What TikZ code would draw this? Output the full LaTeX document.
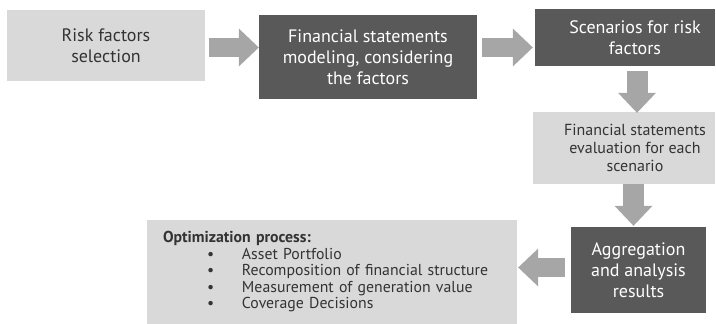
\documentclass[tikz,border=0pt]{standalone}
\usepackage{fontspec}
\setmainfont{PT Sans}
\usetikzlibrary{arrows.meta}
\definecolor{lightbox}{HTML}{D9D9D9}
\definecolor{darkbox}{HTML}{595959}
\definecolor{arrowgray}{HTML}{A6A6A6}
\definecolor{inktext}{HTML}{333333}
\newcommand{\bulletitem}[1]{\hspace*{44pt}\makebox[35pt][l]{\textbullet}#1}
\begin{document}
\begin{tikzpicture}[x=1pt,y=-1pt]

      \tikzset{lightstep/.style={fill=lightbox, text=inktext, inner sep=0pt, align=center, font=\fontsize{18}{21}\selectfont},
               darkstep/.style={fill=darkbox, text=white, inner sep=0pt, align=center, font=\fontsize{18}{21}\selectfont},
               fat/.style={draw=arrowgray, line width=19pt, -{Triangle[length=20pt,width=38pt,line width=0pt]}}}
      \useasboundingbox (0,0) rectangle (716,324);
%% Steps
      	\node[lightstep, minimum width=198pt, minimum height=71pt] (select) at (106,45.5) {Risk factors\\selection};
      	\node[darkstep, minimum width=218pt, minimum height=84pt] (model) at (368,57) {Financial statements\\modeling, considering\\the factors};
      	\node[darkstep, minimum width=180pt, minimum height=57pt] (scen) at (625,37.5) {\hspace*{20pt}Scenarios for risk\\\hspace*{20pt}factors};
      	\node[lightstep, minimum width=182pt, minimum height=72pt, font=\fontsize{16}{18}\selectfont] (eval) at (624,148) {\hspace*{22pt}Financial statements\\\hspace*{22pt}evaluation for each\\\hspace*{22pt}scenario};
      	\node[darkstep, minimum width=135pt, minimum height=86pt] (aggr) at (638.5,270) {Aggregation\\and analysis\\results};
      	\node[lightstep, minimum width=370pt, minimum height=104pt, text width=338pt, align=left, font=\fontsize{15.8}{16.5}\selectfont] (optim) at (332,272)
      	  {{\bfseries Optimization process:}\\
      	   \bulletitem{Asset Portfolio}\\
      	   \bulletitem{Recomposition of financial structure}\\
      	   \bulletitem{Measurement of generation value}\\
      	   \bulletitem{Coverage Decisions}};
%Arrows
		\draw[fat, shorten <=4pt] ([yshift=-2pt]select.east) -- ([yshift=-2pt]select.east -| model.west);
		\draw[fat, shorten <=5pt, shorten >=2pt] ([yshift=9.5pt]model.east) -- ([yshift=9.5pt]model.east -| scen.west);
		\draw[fat, line width=21pt, shorten <=5pt, shorten >=-1pt] ([xshift=12pt]scen.south) -- ([xshift=12pt]scen.south |- eval.north);
		\draw[fat, line width=21pt, shorten >=1pt] ([xshift=-5pt]aggr.north |- eval.south) -- ([xshift=-5pt]aggr.north);
		\draw[fat, shorten <=6pt, shorten >=1pt] ([yshift=2.5pt]aggr.west) -- ([yshift=2.5pt]aggr.west -| optim.east);

	\end{tikzpicture}
\end{document}
